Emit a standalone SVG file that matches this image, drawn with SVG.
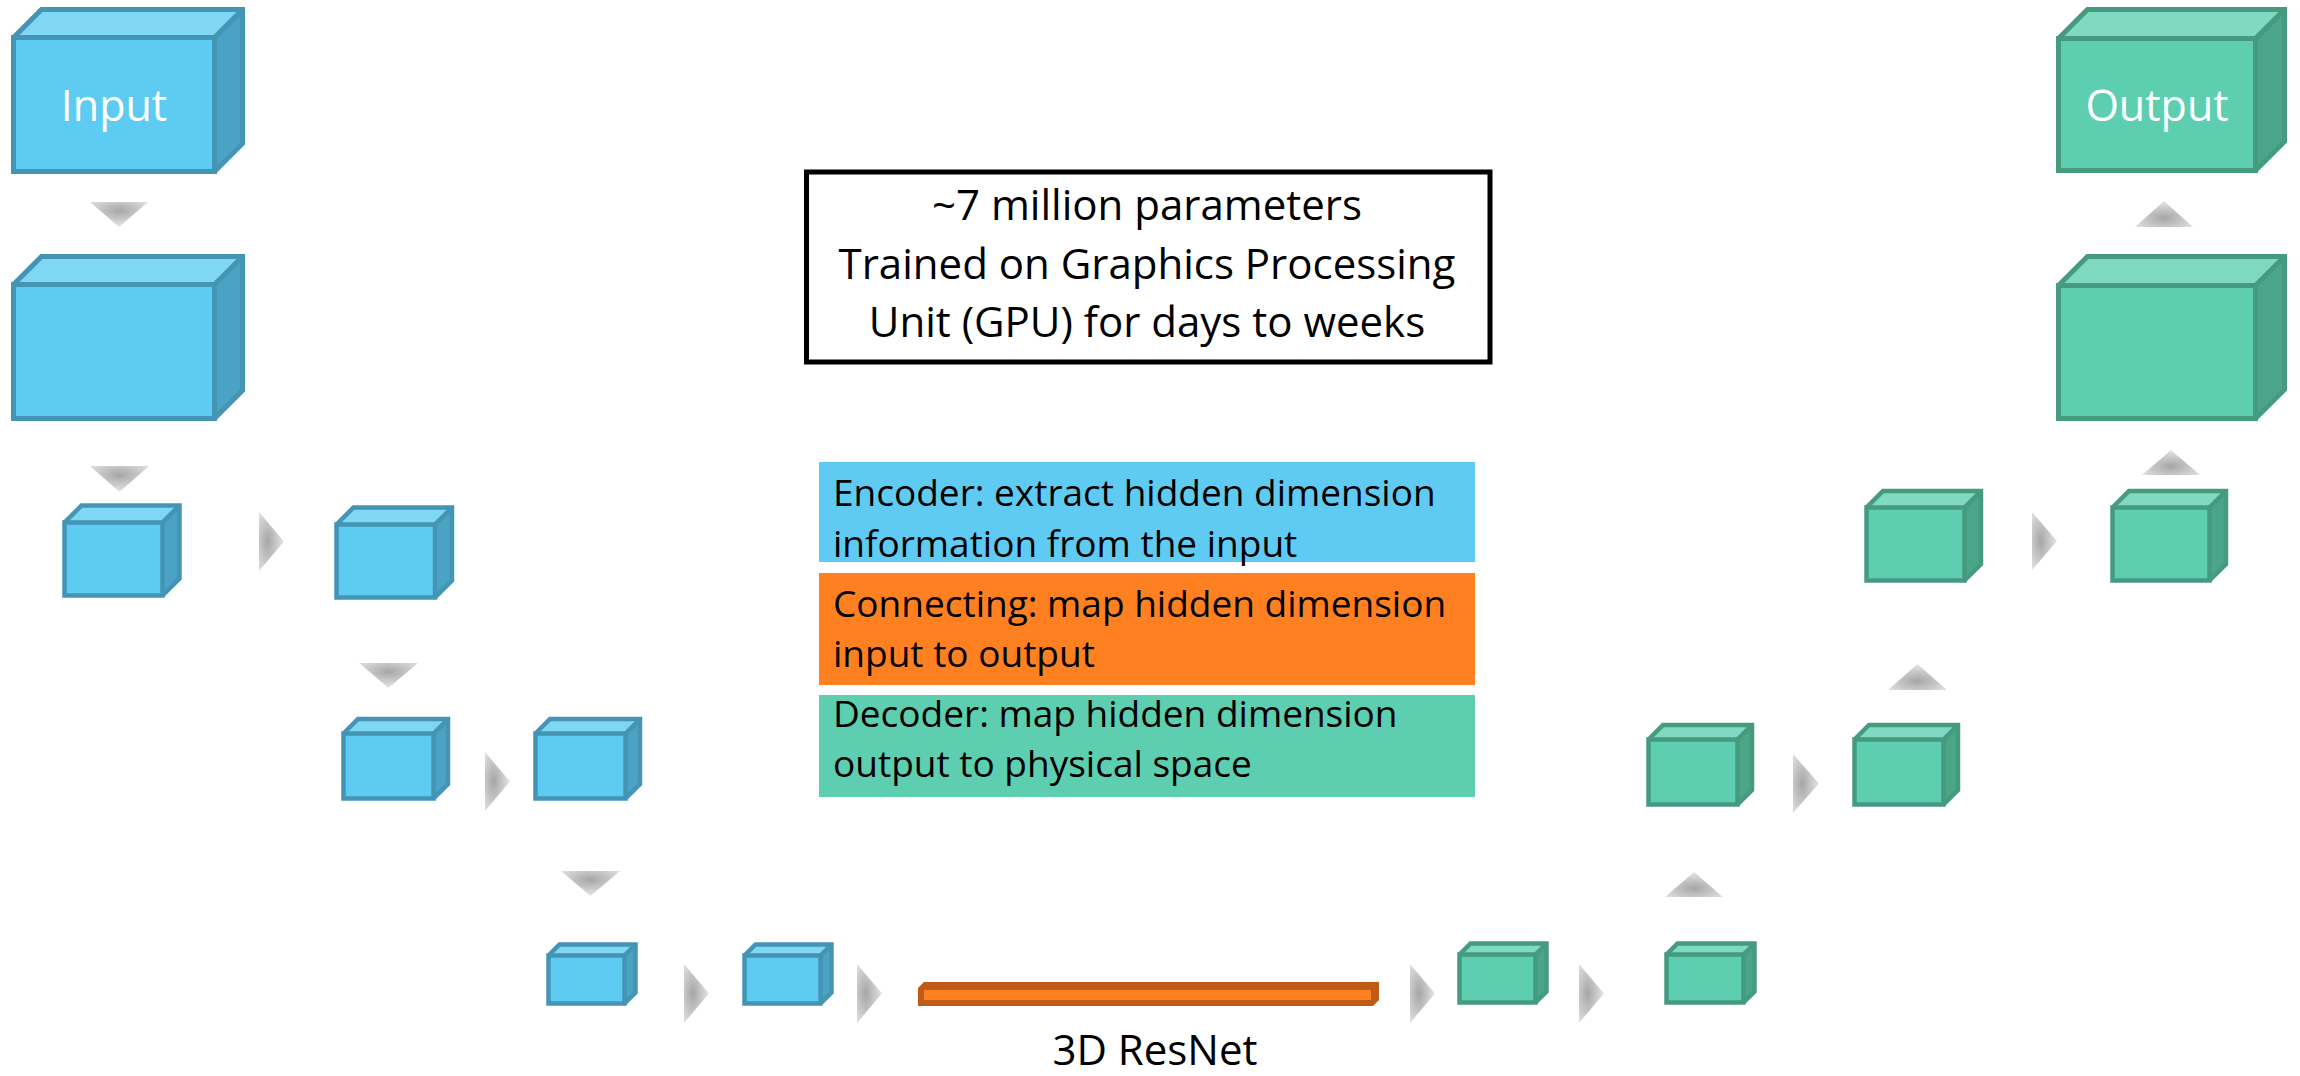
<svg xmlns="http://www.w3.org/2000/svg" width="2300" height="1076" viewBox="0 0 2300 1076">
  <style>
    text { font-family: "Open Sans", "Liberation Sans", sans-serif; }
    .top, .side { stroke: none; }
    .front, .edge { stroke-width: 5; stroke-linejoin: miter; }
    .small .front, .small .edge { stroke-width: 4.5; }
    .edge { fill: none; }
    .enc .front, .enc .edge { stroke: #4494B4; }
    .dec .front, .dec .edge { stroke: #459A80; }
    .enc .top { fill: #7FD7F4; }
    .enc .side { fill: #4AA3C4; }
    .enc .front { fill: #5ECBF2; }
    .dec .top { fill: #80D9C1; }
    .dec .side { fill: #4AA589; }
    .dec .front { fill: #5DCEB0; }
    .label { fill: #FFFFFF; font-size: 43px; text-anchor: middle; }
    .note { fill: #000000; font-size: 42px; text-anchor: middle; }
    .legend { fill: #000000; font-size: 37px; }
    .down { fill: url(#gDown); }
    .up { fill: url(#gUp); }
    .right { fill: url(#gRight); }
  </style>
  <defs>
    <radialGradient id="gDown" cx="0.5" cy="0.35" r="0.65">
      <stop offset="0" stop-color="#A6A6A6"/>
      <stop offset="1" stop-color="#E6E6E6"/>
    </radialGradient>
    <radialGradient id="gUp" cx="0.5" cy="0.65" r="0.65">
      <stop offset="0" stop-color="#A6A6A6"/>
      <stop offset="1" stop-color="#E6E6E6"/>
    </radialGradient>
    <radialGradient id="gRight" cx="0.35" cy="0.5" r="0.65">
      <stop offset="0" stop-color="#A6A6A6"/>
      <stop offset="1" stop-color="#E6E6E6"/>
    </radialGradient>
  </defs>

  <rect width="2300" height="1076" fill="#FFFFFF"/>

  <!-- info box -->
  <g id="info">
    <rect x="806.5" y="172" width="683.5" height="190" fill="#FFFFFF" stroke="#000000" stroke-width="5"/>
    <text class="note" x="1147" y="220">~7 million parameters</text>
    <text class="note" x="1147" y="279">Trained on Graphics Processing</text>
    <text class="note" x="1147" y="337">Unit (GPU) for days to weeks</text>
  </g>

  <!-- legend -->
  <g id="legend-encoder">
    <rect x="819" y="462" width="656" height="100" fill="#5FCBF3"/>
    <text class="legend" x="833" y="506">Encoder: extract hidden dimension</text>
    <text class="legend" x="833" y="557">information from the input</text>
  </g>
  <g id="legend-connecting">
    <rect x="819" y="573" width="656" height="112" fill="#FF8021"/>
    <text class="legend" x="833" y="617">Connecting: map hidden dimension</text>
    <text class="legend" x="833" y="667">input to output</text>
  </g>
  <g id="legend-decoder">
    <rect x="819" y="695" width="656" height="102" fill="#5DCEAF"/>
    <text class="legend" x="833" y="727">Decoder: map hidden dimension</text>
    <text class="legend" x="833" y="777">output to physical space</text>
  </g>

  <!-- connectors -->
  <g id="connectors">
    <polygon class="down" points="90,202 148,202 119,227"/>
    <polygon class="down" points="90,466 149,466 119.5,492"/>
    <polygon class="right" points="259,512 284,541.5 259,571"/>
    <polygon class="down" points="359,663 418,663 388.5,688"/>
    <polygon class="right" points="485,752 510,781.5 485,811"/>
    <polygon class="down" points="561,871 620,871 590.5,896"/>
    <polygon class="right" points="684,964 709,993.5 684,1023"/>
    <polygon class="right" points="857,964 882,993.5 857,1023"/>
    <polygon class="right" points="1410,964 1435,993.5 1410,1023"/>
    <polygon class="right" points="1579,964 1604,993.5 1579,1023"/>
    <polygon class="up" points="1665,897 1723,897 1694,872"/>
    <polygon class="right" points="1793,754 1819,783.5 1793,813"/>
    <polygon class="up" points="1888,690 1947,690 1917.5,664"/>
    <polygon class="right" points="2032,512 2057,541 2032,570"/>
    <polygon class="up" points="2142,475 2200,475 2171,450"/>
    <polygon class="up" points="2135,227 2193,227 2164,201"/>
  </g>

  <!-- encoder blocks -->
  <g id="input" class="enc">
    <polygon class="top" points="13.5,37.5 41.5,9.5 242.5,9.5 214.5,37.5"/>
    <polygon class="side" points="214.5,37.5 242.5,9.5 242.5,143.5 214.5,171.5"/>
    <rect class="front" x="13.5" y="37.5" width="201" height="134"/>
    <path class="edge" d="M13.5,37.5 L41.5,9.5 H242.5 V143.5 L214.5,171.5 M214.5,37.5 L242.5,9.5"/>
    <text class="label" x="114" y="121">Input</text>
  </g>
  <g id="enc1" class="enc">
    <polygon class="top" points="13.5,284.5 41.5,256.5 242.5,256.5 214.5,284.5"/>
    <polygon class="side" points="214.5,284.5 242.5,256.5 242.5,390.5 214.5,418.5"/>
    <rect class="front" x="13.5" y="284.5" width="201" height="134"/>
    <path class="edge" d="M13.5,284.5 L41.5,256.5 H242.5 V390.5 L214.5,418.5 M214.5,284.5 L242.5,256.5"/>
  </g>
  <g id="enc2" class="enc small">
    <polygon class="top" points="64.5,522.5 81.5,505.5 179.5,505.5 162.5,522.5"/>
    <polygon class="side" points="162.5,522.5 179.5,505.5 179.5,578.5 162.5,595.5"/>
    <rect class="front" x="64.5" y="522.5" width="98" height="73"/>
    <path class="edge" d="M64.5,522.5 L81.5,505.5 H179.5 V578.5 L162.5,595.5 M162.5,522.5 L179.5,505.5"/>
  </g>
  <g id="enc3" class="enc small">
    <polygon class="top" points="336.5,524.5 353.5,507.5 452,507.5 435,524.5"/>
    <polygon class="side" points="435,524.5 452,507.5 452,580.5 435,597.5"/>
    <rect class="front" x="336.5" y="524.5" width="98.5" height="73"/>
    <path class="edge" d="M336.5,524.5 L353.5,507.5 H452 V580.5 L435,597.5 M435,524.5 L452,507.5"/>
  </g>
  <g id="enc4" class="enc small">
    <polygon class="top" points="343.5,733.5 358,719 448,719 433.5,733.5"/>
    <polygon class="side" points="433.5,733.5 448,719 448,784 433.5,798.5"/>
    <rect class="front" x="343.5" y="733.5" width="90" height="65"/>
    <path class="edge" d="M343.5,733.5 L358,719 H448 V784 L433.5,798.5 M433.5,733.5 L448,719"/>
  </g>
  <g id="enc5" class="enc small">
    <polygon class="top" points="535.5,733.5 550,719 640,719 625.5,733.5"/>
    <polygon class="side" points="625.5,733.5 640,719 640,784 625.5,798.5"/>
    <rect class="front" x="535.5" y="733.5" width="90" height="65"/>
    <path class="edge" d="M535.5,733.5 L550,719 H640 V784 L625.5,798.5 M625.5,733.5 L640,719"/>
  </g>
  <g id="enc6" class="enc small">
    <polygon class="top" points="548.5,955.5 559.5,944.5 635.5,944.5 624.5,955.5"/>
    <polygon class="side" points="624.5,955.5 635.5,944.5 635.5,992.5 624.5,1003.5"/>
    <rect class="front" x="548.5" y="955.5" width="76" height="48"/>
    <path class="edge" d="M548.5,955.5 L559.5,944.5 H635.5 V992.5 L624.5,1003.5 M624.5,955.5 L635.5,944.5"/>
  </g>
  <g id="enc7" class="enc small">
    <polygon class="top" points="744.5,955.5 755.5,944.5 831.5,944.5 820.5,955.5"/>
    <polygon class="side" points="820.5,955.5 831.5,944.5 831.5,992.5 820.5,1003.5"/>
    <rect class="front" x="744.5" y="955.5" width="76" height="48"/>
    <path class="edge" d="M744.5,955.5 L755.5,944.5 H831.5 V992.5 L820.5,1003.5 M820.5,955.5 L831.5,944.5"/>
  </g>

  <!-- connecting block -->
  <g id="resnet">
    <polygon points="918,988 924,982 1379,982 1379,1000 1373,1006 918,1006" fill="#BF5B16"/>
    <rect x="924" y="990" width="447" height="10" fill="#FF8021"/>
    <text class="note" x="1155" y="1065">3D ResNet</text>
  </g>

  <!-- decoder blocks -->
  <g id="dec1" class="dec small">
    <polygon class="top" points="1459.5,954.5 1470.5,943.5 1546.5,943.5 1535.5,954.5"/>
    <polygon class="side" points="1535.5,954.5 1546.5,943.5 1546.5,991.5 1535.5,1002.5"/>
    <rect class="front" x="1459.5" y="954.5" width="76" height="48"/>
    <path class="edge" d="M1459.5,954.5 L1470.5,943.5 H1546.5 V991.5 L1535.5,1002.5 M1535.5,954.5 L1546.5,943.5"/>
  </g>
  <g id="dec2" class="dec small">
    <polygon class="top" points="1666.5,954.5 1677.5,943.5 1754.5,943.5 1743.5,954.5"/>
    <polygon class="side" points="1743.5,954.5 1754.5,943.5 1754.5,991.5 1743.5,1002.5"/>
    <rect class="front" x="1666.5" y="954.5" width="77" height="48"/>
    <path class="edge" d="M1666.5,954.5 L1677.5,943.5 H1754.5 V991.5 L1743.5,1002.5 M1743.5,954.5 L1754.5,943.5"/>
  </g>
  <g id="dec3" class="dec small">
    <polygon class="top" points="1648.5,739.5 1663,725 1752,725 1737.5,739.5"/>
    <polygon class="side" points="1737.5,739.5 1752,725 1752,790 1737.5,804.5"/>
    <rect class="front" x="1648.5" y="739.5" width="89" height="65"/>
    <path class="edge" d="M1648.5,739.5 L1663,725 H1752 V790 L1737.5,804.5 M1737.5,739.5 L1752,725"/>
  </g>
  <g id="dec4" class="dec small">
    <polygon class="top" points="1854.5,739.5 1869,725 1958,725 1943.5,739.5"/>
    <polygon class="side" points="1943.5,739.5 1958,725 1958,790 1943.5,804.5"/>
    <rect class="front" x="1854.5" y="739.5" width="89" height="65"/>
    <path class="edge" d="M1854.5,739.5 L1869,725 H1958 V790 L1943.5,804.5 M1943.5,739.5 L1958,725"/>
  </g>
  <g id="dec5" class="dec small">
    <polygon class="top" points="1866.5,507.5 1883,491 1981,491 1964.5,507.5"/>
    <polygon class="side" points="1964.5,507.5 1981,491 1981,564 1964.5,580.5"/>
    <rect class="front" x="1866.5" y="507.5" width="98" height="73"/>
    <path class="edge" d="M1866.5,507.5 L1883,491 H1981 V564 L1964.5,580.5 M1964.5,507.5 L1981,491"/>
  </g>
  <g id="dec6" class="dec small">
    <polygon class="top" points="2112.5,507.5 2129,491 2226,491 2209.5,507.5"/>
    <polygon class="side" points="2209.5,507.5 2226,491 2226,564 2209.5,580.5"/>
    <rect class="front" x="2112.5" y="507.5" width="97" height="73"/>
    <path class="edge" d="M2112.5,507.5 L2129,491 H2226 V564 L2209.5,580.5 M2209.5,507.5 L2226,491"/>
  </g>
  <g id="dec7" class="dec">
    <polygon class="top" points="2058.5,285.5 2087.5,256.5 2284.5,256.5 2255.5,285.5"/>
    <polygon class="side" points="2255.5,285.5 2284.5,256.5 2284.5,389.5 2255.5,418.5"/>
    <rect class="front" x="2058.5" y="285.5" width="197" height="133"/>
    <path class="edge" d="M2058.5,285.5 L2087.5,256.5 H2284.5 V389.5 L2255.5,418.5 M2255.5,285.5 L2284.5,256.5"/>
  </g>
  <g id="output" class="dec">
    <polygon class="top" points="2058.5,38.5 2087.5,9.5 2284.5,9.5 2255.5,38.5"/>
    <polygon class="side" points="2255.5,38.5 2284.5,9.5 2284.5,141.5 2255.5,170.5"/>
    <rect class="front" x="2058.5" y="38.5" width="197" height="132"/>
    <path class="edge" d="M2058.5,38.5 L2087.5,9.5 H2284.5 V141.5 L2255.5,170.5 M2255.5,38.5 L2284.5,9.5"/>
    <text class="label" x="2157" y="121">Output</text>
  </g>
</svg>
